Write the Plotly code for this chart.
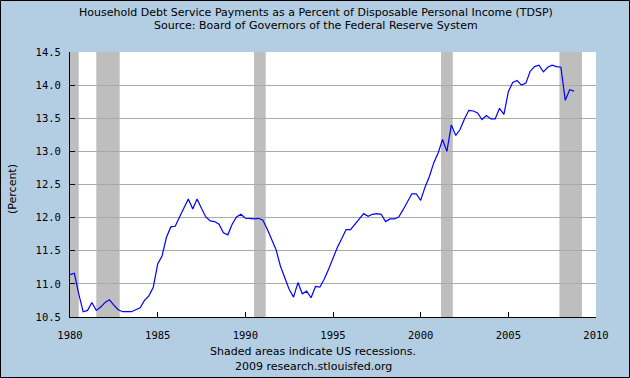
import pandas as pd
import plotly.graph_objects as go

# Quarterly observations 1980Q1 .. 2008Q4 (percent)
values = [
    11.14, 11.16, 10.85, 10.58,
    10.60, 10.72, 10.60, 10.65,
    10.72, 10.76, 10.68, 10.61,
    10.58, 10.58, 10.58, 10.61,
    10.64, 10.75, 10.82, 10.95,
    11.30, 11.42, 11.70, 11.86,
    11.87, 12.01, 12.14, 12.28,
    12.13, 12.28, 12.14, 12.01,
    11.95, 11.94, 11.90, 11.77,
    11.74, 11.90, 12.01, 12.05,
    11.99, 11.98, 11.98, 11.99,
    11.96, 11.83, 11.68, 11.52,
    11.27, 11.10, 10.92, 10.80,
    11.02, 10.85, 10.89, 10.79,
    10.96, 10.95, 11.07, 11.22,
    11.40, 11.55, 11.68, 11.82,
    11.82, 11.90, 11.98, 12.06,
    12.02, 12.05, 12.06, 12.05,
    11.94, 11.98, 11.98, 12.01,
    12.12, 12.24, 12.36, 12.36,
    12.26, 12.46, 12.62, 12.83,
    12.98, 13.18, 13.00, 13.40,
    13.24, 13.33, 13.49, 13.62,
    13.61, 13.58, 13.48, 13.54,
    13.49, 13.49, 13.65, 13.56,
    13.90, 14.04, 14.07, 14.00,
    14.03, 14.21, 14.28, 14.30,
    14.20, 14.27, 14.30, 14.28,
    14.27, 13.77, 13.93, 13.91,
]
dates = pd.period_range("1980Q1", "2008Q4", freq="Q").to_timestamp()

recession_starts = ["1980-01-01", "1981-07-01", "1990-07-01", "2001-03-01", "2007-12-01"]
recession_ends = ["1980-07-01", "1982-11-01", "1991-03-01", "2001-11-01", "2009-03-15"]

x_ticks = ["1980-01-01", "1985-01-01", "1990-01-01", "1995-01-01",
           "2000-01-01", "2005-01-01", "2010-01-01"]
x_ticklabels = ["1980", "1985", "1990", "1995", "2000", "2005", "2010"]
y_ticks = [10.5, 11.0, 11.5, 12.0, 12.5, 13.0, 13.5, 14.0, 14.5]

title1 = "Household Debt Service Payments as a Percent of Disposable Personal Income (TDSP)"
title2 = "Source: Board of Governors of the Federal Reserve System"
foot1 = "Shaded areas indicate US recessions."
foot2 = "2009 research.stlouisfed.org"

BG = "#B3CDE3"
W, H = 630, 378
L, R, T, B = 70, 34, 52, 61
PW, PH = W - L - R, H - T - B

fig = go.Figure()
fig.add_trace(go.Scatter(x=dates, y=values, mode="lines",
                         line=dict(color="#0000FF", width=1.2), showlegend=False))

shapes = []
for s, e in zip(recession_starts, recession_ends):
    shapes.append(dict(type="rect", xref="x", yref="paper", x0=s, x1=e, y0=0, y1=1,
                       fillcolor="#BEBEBE", line=dict(width=0), layer="below"))
# outer border
shapes.append(dict(type="rect", xref="paper", yref="paper",
                   x0=(-L + 0.5) / PW, x1=(W - L - 0.5) / PW,
                   y0=(-B + 0.5) / PH, y1=(H - B - 0.5) / PH,
                   line=dict(color="#000000", width=1), fillcolor="rgba(0,0,0,0)", layer="above"))

def px_y(ypix):
    return (H - B - ypix) / PH

def px_x(xpix):
    return (xpix - L) / PW

txtfont = dict(family="DejaVu Sans", size=11, color="#000000")
ann = [
    dict(text=title1, x=px_x(316), y=px_y(12.5)),
    dict(text=title2, x=px_x(316), y=px_y(25.5)),
    dict(text=foot1, x=px_x(313), y=px_y(351)),
    dict(text=foot2, x=px_x(313), y=px_y(366.5)),
]
annotations = [dict(a, xref="paper", yref="paper", xanchor="center", yanchor="middle",
                    showarrow=False, font=txtfont) for a in ann]
annotations.append(dict(text="(Percent)", x=px_x(12), y=px_y(189), xref="paper", yref="paper",
                        xanchor="center", yanchor="middle", textangle=-90,
                        showarrow=False, font=txtfont))

tickfont = dict(family="DejaVu Sans Mono", size=10.5, color="#000000")
fig.update_layout(
    width=W, height=H,
    margin=dict(l=L, r=R, t=T, b=B, pad=0),
    paper_bgcolor=BG, plot_bgcolor="#FFFFFF",
    shapes=shapes, annotations=annotations,
    xaxis=dict(range=["1980-01-01", "2010-01-01"], tickmode="array",
               tickvals=x_ticks, ticktext=x_ticklabels,
               ticks="inside", ticklen=5, tickcolor="#000000",
               showline=True, linecolor="#000000", linewidth=1,
               showgrid=False, zeroline=False, tickfont=tickfont,
               ticklabelstandoff=8),
    yaxis=dict(range=[10.5, 14.5], tickmode="array", tickvals=y_ticks,
               ticktext=[f"{v:.1f}" for v in y_ticks],
               ticks="inside", ticklen=5, tickcolor="#000000",
               showline=True, linecolor="#000000", linewidth=1,
               showgrid=True, gridcolor="#AAAAAA", gridwidth=1,
               zeroline=False, tickfont=tickfont, ticklabelstandoff=6),
    showlegend=False,
)

fig.write_html("out.html", config={"displayModeBar": False},
               post_script="document.body.style.margin='0px';")
